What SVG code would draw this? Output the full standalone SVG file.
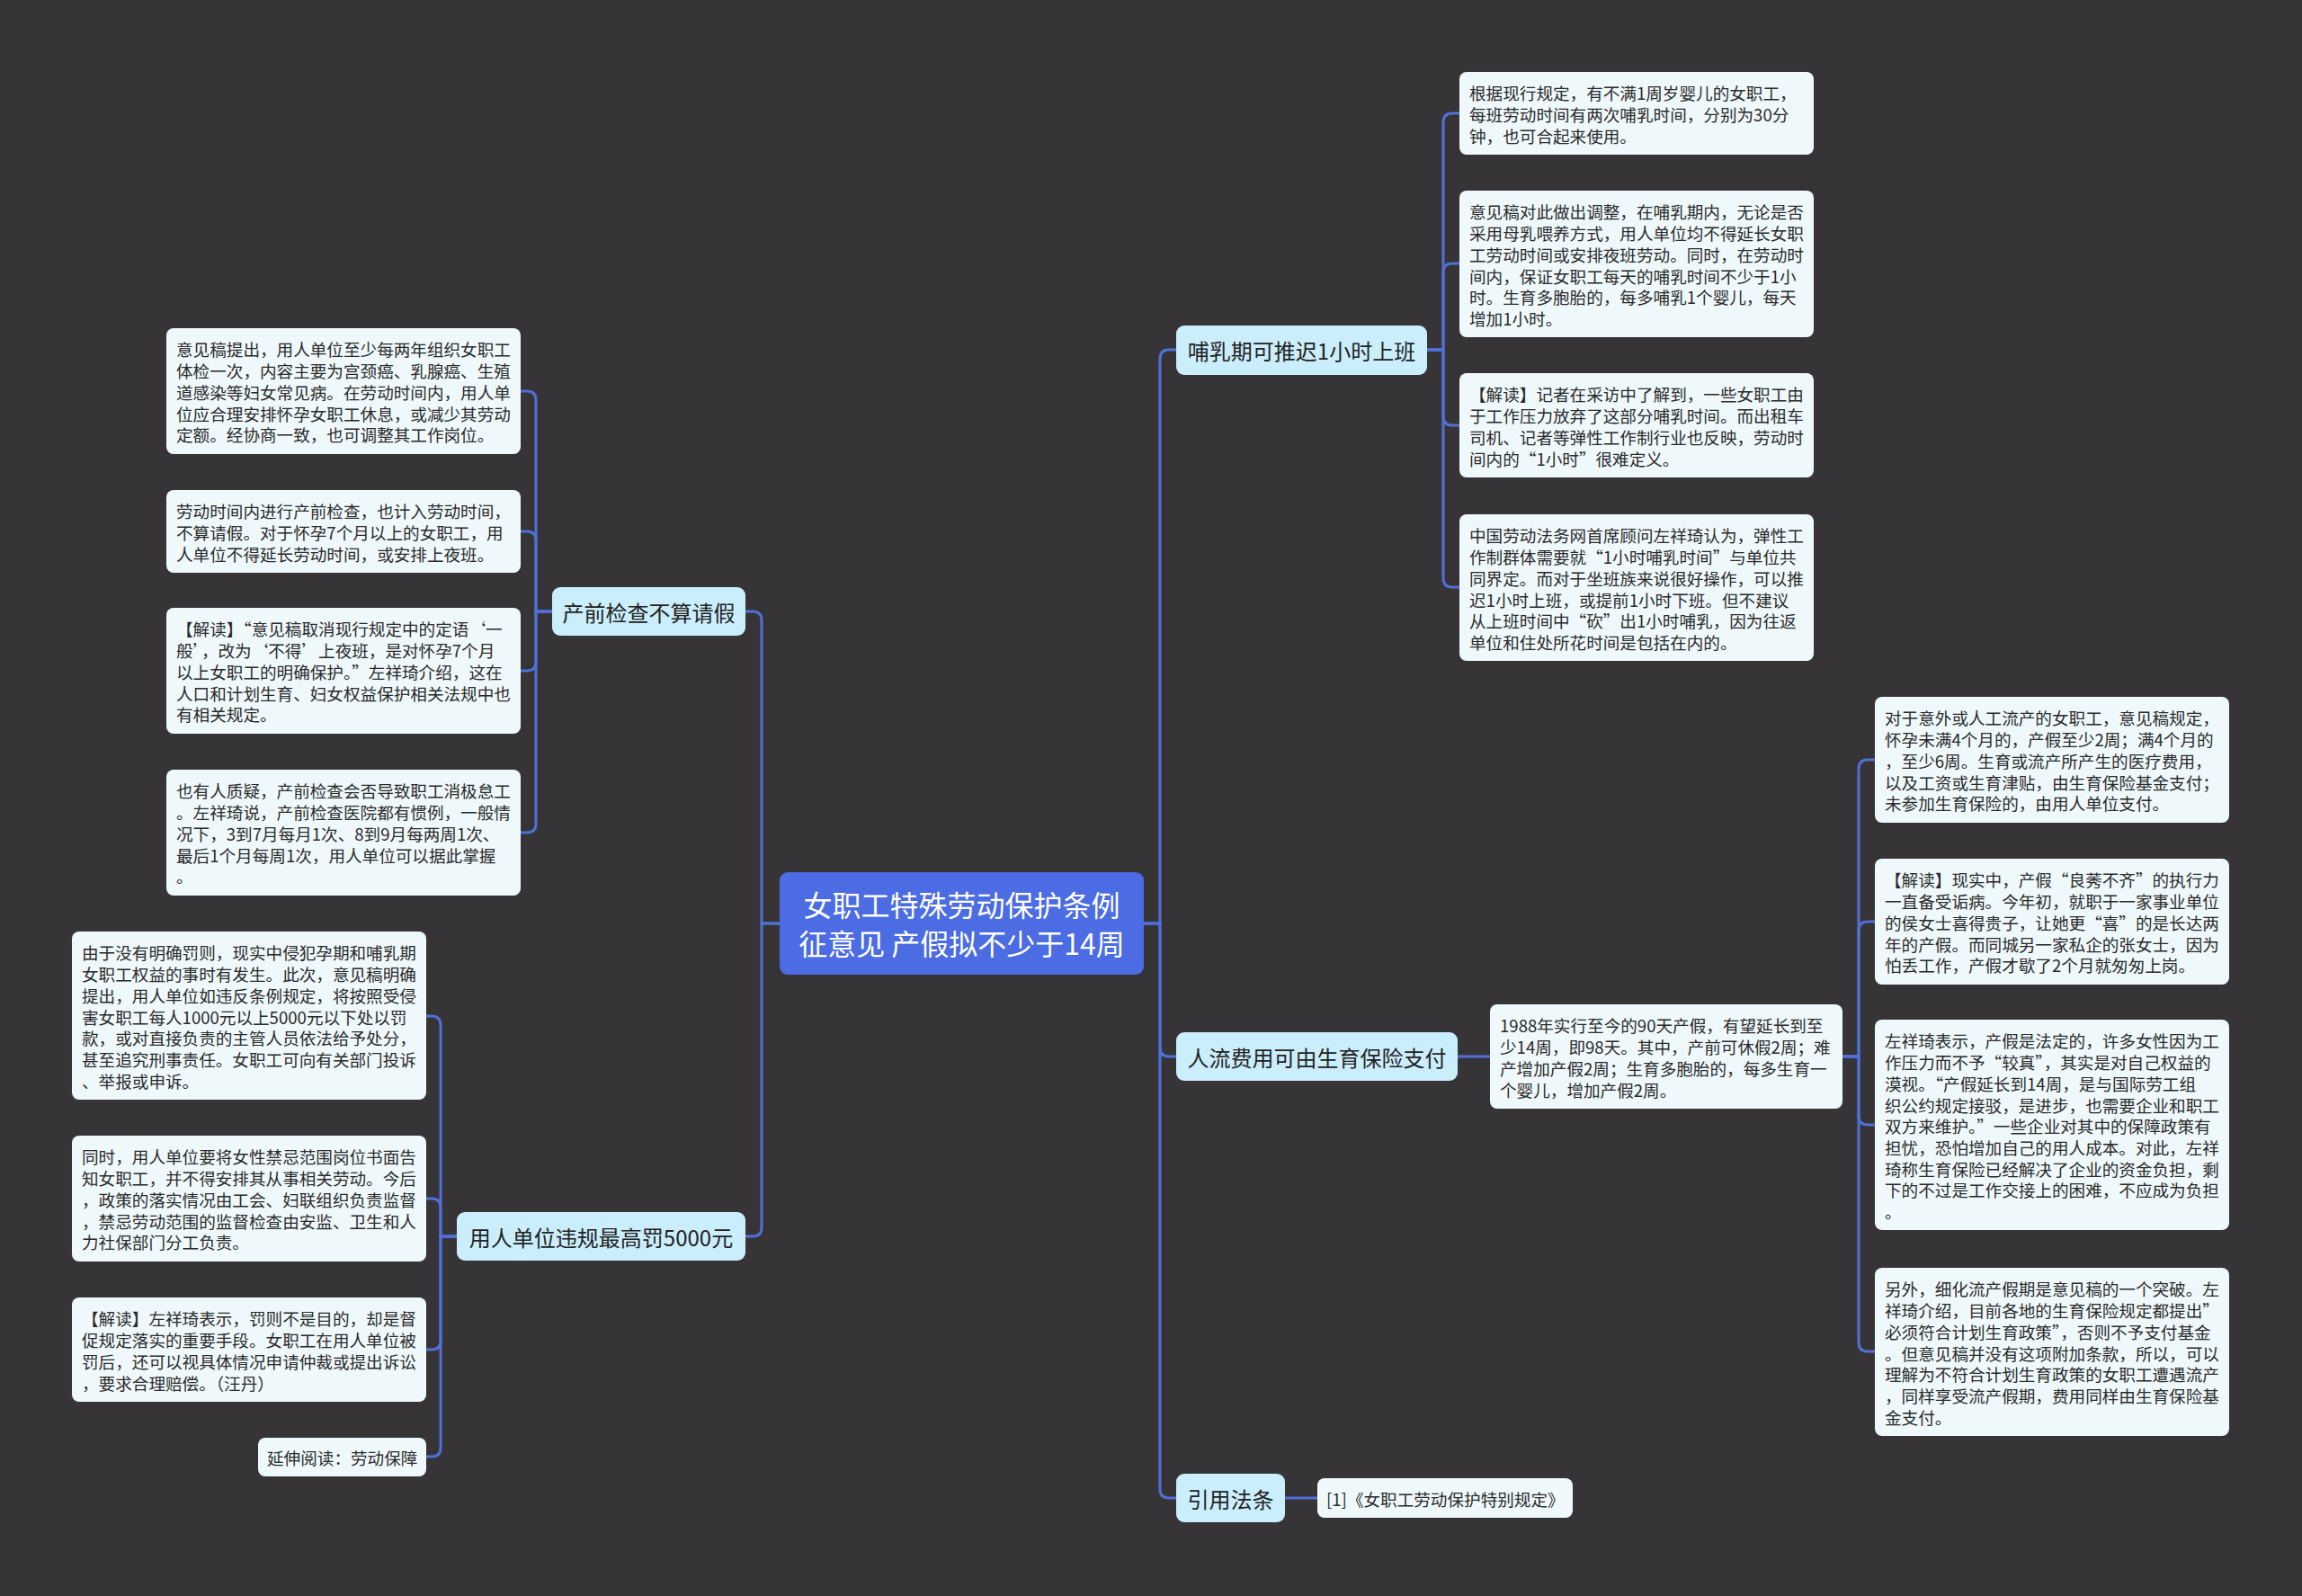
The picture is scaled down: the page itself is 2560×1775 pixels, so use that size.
<svg xmlns="http://www.w3.org/2000/svg" width="2560" height="1775" viewBox="0 0 2560 1775">
<style>
.bg{fill:#363436}
.ln{fill:none;stroke:#5070d8;stroke-width:3;stroke-linecap:round}
.root rect{fill:#4b6ce2}
.root text{fill:#ffffff;font-size:32px;text-anchor:middle}
.br rect{fill:#cbeefc}
.br text{fill:#222;font-size:24px;text-anchor:middle}
.lf rect{fill:#eff9fc}
.lf text{fill:#2a2a2a;font-size:18.6px}
text{font-family:"Noto Sans CJK SC","Noto Sans",sans-serif;dominant-baseline:central}
</style>
<rect class="bg" x="0" y="0" width="2560" height="1775"/>
<g id="connectors">
<path class="ln" d="M1272 1027 H1290 V399 Q1290 389 1300 389 H1308"/>
<path class="ln" d="M1272 1027 H1290 V1165 Q1290 1175 1300 1175 H1308"/>
<path class="ln" d="M1272 1027 H1290 V1656 Q1290 1666 1300 1666 H1308"/>
<path class="ln" d="M867 1027 H847 V690 Q847 680 837 680 H829"/>
<path class="ln" d="M867 1027 H847 V1365 Q847 1375 837 1375 H829"/>
<path class="ln" d="M1587 389 H1605 V136 Q1605 126 1615 126 H1623"/>
<path class="ln" d="M1587 389 H1605 V303 Q1605 293 1615 293 H1623"/>
<path class="ln" d="M1587 389 H1605 V463 Q1605 473 1615 473 H1623"/>
<path class="ln" d="M1587 389 H1605 V643 Q1605 653 1615 653 H1623"/>
<path class="ln" d="M614 680 H596 V445 Q596 435 586 435 H579"/>
<path class="ln" d="M614 680 H596 V601 Q596 591 586 591 H579"/>
<path class="ln" d="M614 680 H596 V736 Q596 746 586 746 H579"/>
<path class="ln" d="M614 680 H596 V916 Q596 926 586 926 H579"/>
<path class="ln" d="M508 1375 H490 V1140 Q490 1130 480 1130 H474"/>
<path class="ln" d="M508 1375 H490 V1343 Q490 1333 480 1333 H474"/>
<path class="ln" d="M508 1375 H490 V1491 Q490 1501 480 1501 H474"/>
<path class="ln" d="M508 1375 H490 V1610 Q490 1620 480 1620 H474"/>
<path class="ln" d="M1621 1175 H1657"/>
<path class="ln" d="M2049 1175 H2067 V855 Q2067 845 2077 845 H2085"/>
<path class="ln" d="M2049 1175 H2067 V1035 Q2067 1025 2077 1025 H2085"/>
<path class="ln" d="M2049 1175 H2067 V1241 Q2067 1251 2077 1251 H2085"/>
<path class="ln" d="M2049 1175 H2067 V1493 Q2067 1503 2077 1503 H2085"/>
<path class="ln" d="M1429 1666 H1465"/>
</g>
<g id="root" class="root">
<rect x="867" y="970" width="405" height="114" rx="9"/>
<text x="1069.5" y="1005">女职工特殊劳动保护条例</text>
<text x="1069.5" y="1048">征意见 产假拟不少于14周</text>
</g>
<g id="b-nursing" class="br">
<rect x="1308" y="362" width="279" height="55" rx="9"/>
<text x="1447.5" y="389.5">哺乳期可推迟1小时上班</text>
</g>
<g id="b-abortion" class="br">
<rect x="1308" y="1148" width="313" height="54" rx="9"/>
<text x="1464.5" y="1175">人流费用可由生育保险支付</text>
</g>
<g id="b-law" class="br">
<rect x="1308" y="1639" width="121" height="54" rx="9"/>
<text x="1368.5" y="1666">引用法条</text>
</g>
<g id="b-prenatal" class="br">
<rect x="614" y="653" width="215" height="54" rx="9"/>
<text x="721.5" y="680">产前检查不算请假</text>
</g>
<g id="b-penalty" class="br">
<rect x="508" y="1348" width="321" height="54" rx="9"/>
<text x="668.5" y="1375">用人单位违规最高罚5000元</text>
</g>
<g id="r1" class="lf">
<rect x="1623" y="80" width="394" height="92" rx="8"/>
<text x="1634" y="102.4"><tspan x="1634">根据现行规定，有不满1周岁婴儿的女职工，</tspan><tspan x="1634" dy="23.7">每班劳动时间有两次哺乳时间，分别为30分</tspan><tspan x="1634" dy="23.7">钟，也可合起来使用。</tspan></text>
</g>
<g id="r2" class="lf">
<rect x="1623" y="212" width="394" height="163" rx="8"/>
<text x="1634" y="234.4"><tspan x="1634">意见稿对此做出调整，在哺乳期内，无论是否</tspan><tspan x="1634" dy="23.7">采用母乳喂养方式，用人单位均不得延长女职</tspan><tspan x="1634" dy="23.7">工劳动时间或安排夜班劳动。同时，在劳动时</tspan><tspan x="1634" dy="23.7">间内，保证女职工每天的哺乳时间不少于1小</tspan><tspan x="1634" dy="23.7">时。生育多胞胎的，每多哺乳1个婴儿，每天</tspan><tspan x="1634" dy="23.7">增加1小时。</tspan></text>
</g>
<g id="r3" class="lf">
<rect x="1623" y="415" width="394" height="116" rx="8"/>
<text x="1634" y="437.4"><tspan x="1634">【解读】记者在采访中了解到，一些女职工由</tspan><tspan x="1634" dy="23.7">于工作压力放弃了这部分哺乳时间。而出租车</tspan><tspan x="1634" dy="23.7">司机、记者等弹性工作制行业也反映，劳动时</tspan><tspan x="1634" dy="23.7">间内的“1小时”很难定义。</tspan></text>
</g>
<g id="r4" class="lf">
<rect x="1623" y="572" width="394" height="163" rx="8"/>
<text x="1634" y="594.4"><tspan x="1634">中国劳动法务网首席顾问左祥琦认为，弹性工</tspan><tspan x="1634" dy="23.7">作制群体需要就“1小时哺乳时间”与单位共</tspan><tspan x="1634" dy="23.7">同界定。而对于坐班族来说很好操作，可以推</tspan><tspan x="1634" dy="23.7">迟1小时上班，或提前1小时下班。但不建议</tspan><tspan x="1634" dy="23.7">从上班时间中“砍”出1小时哺乳，因为往返</tspan><tspan x="1634" dy="23.7">单位和住处所花时间是包括在内的。</tspan></text>
</g>
<g id="l1" class="lf">
<rect x="185" y="365" width="394" height="140" rx="8"/>
<text x="196" y="387.4"><tspan x="196">意见稿提出，用人单位至少每两年组织女职工</tspan><tspan x="196" dy="23.7">体检一次，内容主要为宫颈癌、乳腺癌、生殖</tspan><tspan x="196" dy="23.7">道感染等妇女常见病。在劳动时间内，用人单</tspan><tspan x="196" dy="23.7">位应合理安排怀孕女职工休息，或减少其劳动</tspan><tspan x="196" dy="23.7">定额。经协商一致，也可调整其工作岗位。</tspan></text>
</g>
<g id="l2" class="lf">
<rect x="185" y="545" width="394" height="92" rx="8"/>
<text x="196" y="567.4"><tspan x="196">劳动时间内进行产前检查，也计入劳动时间，</tspan><tspan x="196" dy="23.7">不算请假。对于怀孕7个月以上的女职工，用</tspan><tspan x="196" dy="23.7">人单位不得延长劳动时间，或安排上夜班。</tspan></text>
</g>
<g id="l3" class="lf">
<rect x="185" y="676" width="394" height="140" rx="8"/>
<text x="196" y="698.4"><tspan x="196">【解读】“意见稿取消现行规定中的定语‘一</tspan><tspan x="196" dy="23.7">般’，改为‘不得’上夜班，是对怀孕7个月</tspan><tspan x="196" dy="23.7">以上女职工的明确保护。”左祥琦介绍，这在</tspan><tspan x="196" dy="23.7">人口和计划生育、妇女权益保护相关法规中也</tspan><tspan x="196" dy="23.7">有相关规定。</tspan></text>
</g>
<g id="l4" class="lf">
<rect x="185" y="856" width="394" height="140" rx="8"/>
<text x="196" y="878.4"><tspan x="196">也有人质疑，产前检查会否导致职工消极怠工</tspan><tspan x="196" dy="23.7">。左祥琦说，产前检查医院都有惯例，一般情</tspan><tspan x="196" dy="23.7">况下，3到7月每月1次、8到9月每两周1次、</tspan><tspan x="196" dy="23.7">最后1个月每周1次，用人单位可以据此掌握</tspan><tspan x="196" dy="23.7">。</tspan></text>
</g>
<g id="lb1" class="lf">
<rect x="80" y="1036" width="394" height="187" rx="8"/>
<text x="91" y="1058.4"><tspan x="91">由于没有明确罚则，现实中侵犯孕期和哺乳期</tspan><tspan x="91" dy="23.7">女职工权益的事时有发生。此次，意见稿明确</tspan><tspan x="91" dy="23.7">提出，用人单位如违反条例规定，将按照受侵</tspan><tspan x="91" dy="23.7">害女职工每人1000元以上5000元以下处以罚</tspan><tspan x="91" dy="23.7">款，或对直接负责的主管人员依法给予处分，</tspan><tspan x="91" dy="23.7">甚至追究刑事责任。女职工可向有关部门投诉</tspan><tspan x="91" dy="23.7">、举报或申诉。</tspan></text>
</g>
<g id="lb2" class="lf">
<rect x="80" y="1263" width="394" height="140" rx="8"/>
<text x="91" y="1285.4"><tspan x="91">同时，用人单位要将女性禁忌范围岗位书面告</tspan><tspan x="91" dy="23.7">知女职工，并不得安排其从事相关劳动。今后</tspan><tspan x="91" dy="23.7">，政策的落实情况由工会、妇联组织负责监督</tspan><tspan x="91" dy="23.7">，禁忌劳动范围的监督检查由安监、卫生和人</tspan><tspan x="91" dy="23.7">力社保部门分工负责。</tspan></text>
</g>
<g id="lb3" class="lf">
<rect x="80" y="1443" width="394" height="116" rx="8"/>
<text x="91" y="1465.4"><tspan x="91">【解读】左祥琦表示，罚则不是目的，却是督</tspan><tspan x="91" dy="23.7">促规定落实的重要手段。女职工在用人单位被</tspan><tspan x="91" dy="23.7">罚后，还可以视具体情况申请仲裁或提出诉讼</tspan><tspan x="91" dy="23.7">，要求合理赔偿。（汪丹）</tspan></text>
</g>
<g id="lb4" class="lf">
<rect x="287" y="1599" width="187" height="43" rx="8"/>
<text x="297" y="1620.5">延伸阅读：劳动保障</text>
</g>
<g id="m1988" class="lf">
<rect x="1657" y="1117" width="392" height="116" rx="8"/>
<text x="1668" y="1139.4"><tspan x="1668">1988年实行至今的90天产假，有望延长到至</tspan><tspan x="1668" dy="23.7">少14周，即98天。其中，产前可休假2周；难</tspan><tspan x="1668" dy="23.7">产增加产假2周；生育多胞胎的，每多生育一</tspan><tspan x="1668" dy="23.7">个婴儿，增加产假2周。</tspan></text>
</g>
<g id="rb1" class="lf">
<rect x="2085" y="775" width="394" height="140" rx="8"/>
<text x="2096" y="797.4"><tspan x="2096">对于意外或人工流产的女职工，意见稿规定，</tspan><tspan x="2096" dy="23.7">怀孕未满4个月的，产假至少2周；满4个月的</tspan><tspan x="2096" dy="23.7">，至少6周。生育或流产所产生的医疗费用，</tspan><tspan x="2096" dy="23.7">以及工资或生育津贴，由生育保险基金支付；</tspan><tspan x="2096" dy="23.7">未参加生育保险的，由用人单位支付。</tspan></text>
</g>
<g id="rb2" class="lf">
<rect x="2085" y="955" width="394" height="140" rx="8"/>
<text x="2096" y="977.4"><tspan x="2096">【解读】现实中，产假“良莠不齐”的执行力</tspan><tspan x="2096" dy="23.7">一直备受诟病。今年初，就职于一家事业单位</tspan><tspan x="2096" dy="23.7">的侯女士喜得贵子，让她更“喜”的是长达两</tspan><tspan x="2096" dy="23.7">年的产假。而同城另一家私企的张女士，因为</tspan><tspan x="2096" dy="23.7">怕丢工作，产假才歇了2个月就匆匆上岗。</tspan></text>
</g>
<g id="rb3" class="lf">
<rect x="2085" y="1134" width="394" height="234" rx="8"/>
<text x="2096" y="1156.4"><tspan x="2096">左祥琦表示，产假是法定的，许多女性因为工</tspan><tspan x="2096" dy="23.7">作压力而不予“较真”，其实是对自己权益的</tspan><tspan x="2096" dy="23.7">漠视。“产假延长到14周，是与国际劳工组</tspan><tspan x="2096" dy="23.7">织公约规定接驳，是进步，也需要企业和职工</tspan><tspan x="2096" dy="23.7">双方来维护。”一些企业对其中的保障政策有</tspan><tspan x="2096" dy="23.7">担忧，恐怕增加自己的用人成本。对此，左祥</tspan><tspan x="2096" dy="23.7">琦称生育保险已经解决了企业的资金负担，剩</tspan><tspan x="2096" dy="23.7">下的不过是工作交接上的困难，不应成为负担</tspan><tspan x="2096" dy="23.7">。</tspan></text>
</g>
<g id="rb4" class="lf">
<rect x="2085" y="1410" width="394" height="187" rx="8"/>
<text x="2096" y="1432.4"><tspan x="2096">另外，细化流产假期是意见稿的一个突破。左</tspan><tspan x="2096" dy="23.7">祥琦介绍，目前各地的生育保险规定都提出”</tspan><tspan x="2096" dy="23.7">必须符合计划生育政策”，否则不予支付基金</tspan><tspan x="2096" dy="23.7">。但意见稿并没有这项附加条款，所以，可以</tspan><tspan x="2096" dy="23.7">理解为不符合计划生育政策的女职工遭遇流产</tspan><tspan x="2096" dy="23.7">，同样享受流产假期，费用同样由生育保险基</tspan><tspan x="2096" dy="23.7">金支付。</tspan></text>
</g>
<g id="ref1" class="lf">
<rect x="1465" y="1644" width="284" height="44" rx="8"/>
<text x="1475" y="1666">[1]《女职工劳动保护特别规定》</text>
</g>
</svg>
